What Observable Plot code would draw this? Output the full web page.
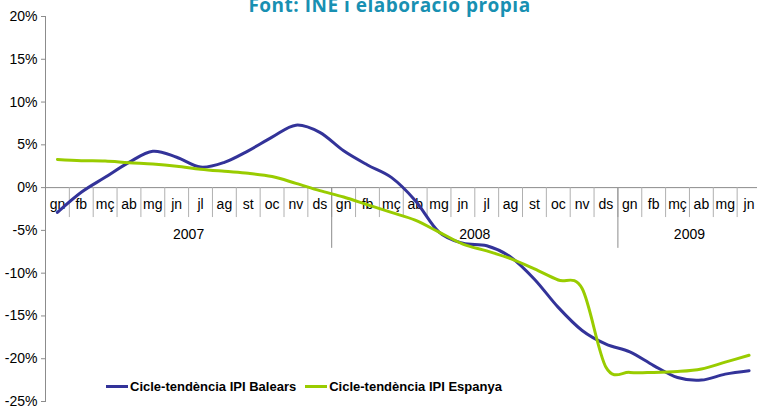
<!DOCTYPE html>
<html>
<head>
<meta charset="utf-8">
<script src="https://cdn.jsdelivr.net/npm/d3@7"></script>
<script src="https://cdn.jsdelivr.net/npm/@observablehq/plot@0.6"></script>
<style>
  body { margin: 0; background: white; }
  #wrap { position: relative; width: 757px; height: 408px; overflow: hidden; font-family: "Liberation Sans", Arial, sans-serif; }
  #legend { position: absolute; left: 106px; top: 379px; display: flex; align-items: center; font: bold 13px "Liberation Sans", Arial, sans-serif; color: #000; white-space: nowrap; }
  #legend .sw { display: inline-block; width: 22px; height: 3px; margin-right: 2px; }
  #legend .item { display: flex; align-items: center; margin-right: 9px; }
  .title-text { letter-spacing: 0.5px; }
</style>
</head>
<body>
<div id="wrap">
  <div id="chart"></div>
  <div id="legend"></div>
</div>
<script>
const title = "Font: INE i elaboració pròpia";
const monthLabels = ["gn","fb","mç","ab","mg","jn","jl","ag","st","oc","nv","ds",
                     "gn","fb","mç","ab","mg","jn","jl","ag","st","oc","nv","ds",
                     "gn","fb","mç","ab","mg","jn"];
const years = ["2007", "2008", "2009"];
const yearStart = [0, 12, 24];
const yearEnd = [12, 24, 30];
const yTicks = [-25, -20, -15, -10, -5, 0, 5, 10, 15, 20];
const seriesNames = ["Cicle-tendència IPI Balears", "Cicle-tendència IPI Espanya"];
const seriesColors = ["#333399", "#99cc00"];
const balears = [-2.9, -0.55, 1.2, 2.95, 4.25, 3.55, 2.4, 2.95, 4.3, 5.9, 7.3, 6.45,
                 4.3, 2.65, 1.2, -1.5, -5.2, -6.5, -6.8, -8.1, -10.7, -14.0, -16.7, -18.3,
                 -19.2, -20.8, -22.2, -22.5, -21.8, -21.4];
const espanya = [3.3, 3.15, 3.1, 2.9, 2.75, 2.5, 2.15, 1.9, 1.67, 1.3, 0.5, -0.35,
                 -1.1, -2.0, -2.9, -3.8, -5.2, -6.6, -7.4, -8.3, -9.5, -10.8, -11.8, -21.0,
                 -21.6, -21.6, -21.5, -21.2, -20.4, -19.6];

const toRows = (arr) => arr.map((v, i) => ({x: i + 0.5, y: v}));
const gray = "#8c8c8c";

const chart = Plot.plot({
  width: 757,
  height: 408,
  marginLeft: 45,
  marginRight: 0,
  marginTop: 16,
  marginBottom: 7,
  style: {fontFamily: "'Liberation Sans', Arial, sans-serif", fontSize: "14px", color: "#000", background: "white", overflow: "visible"},
  x: {domain: [0, 30], range: [45, 760.5], axis: null},
  y: {domain: [-25, 20], axis: null},
  marks: [
    Plot.frame({anchor: "left", stroke: gray}),
    Plot.axisY({ticks: yTicks, tickFormat: d => d + "%", tickSize: 4, tickPadding: 4, stroke: gray, label: null, fontSize: 14}),
    Plot.ruleY([0], {stroke: gray}),
    Plot.ruleX(d3.range(1, 31), {y1: 0, y2: -3.5, stroke: "#b0b0b0"}),
    Plot.ruleX(yearStart.slice(1), {y1: 0, y2: -7.1, stroke: gray}),
    Plot.text(monthLabels, {x: (d, i) => i + 0.5, y: 0, dy: 17, text: d => d, fontSize: 14, fill: "#000"}),
    Plot.text(years, {x: (d, i) => (yearStart[i] + yearEnd[i]) / 2, y: 0, dy: 47, text: d => d, fontSize: 14, fill: "#000"}),
    Plot.line(toRows(balears), {x: "x", y: "y", stroke: seriesColors[0], strokeWidth: 3, curve: "cardinal"}),
    Plot.line(toRows(espanya), {x: "x", y: "y", stroke: seriesColors[1], strokeWidth: 3, curve: "cardinal"}),
    Plot.text([title], {frameAnchor: "top", dx: -12, dy: -5, lineAnchor: "bottom", fontFamily: "'Open Sans', sans-serif", fontWeight: "bold", fontSize: 19, fill: "#1890b2", className: "title-text"})
  ]
});
document.getElementById("chart").appendChild(chart);

const legend = document.getElementById("legend");
seriesNames.forEach((name, i) => {
  const item = document.createElement("span");
  item.className = "item";
  const sw = document.createElement("span");
  sw.className = "sw";
  sw.style.background = seriesColors[i];
  item.appendChild(sw);
  item.appendChild(document.createTextNode(name));
  legend.appendChild(item);
});
</script>
</body>
</html>
